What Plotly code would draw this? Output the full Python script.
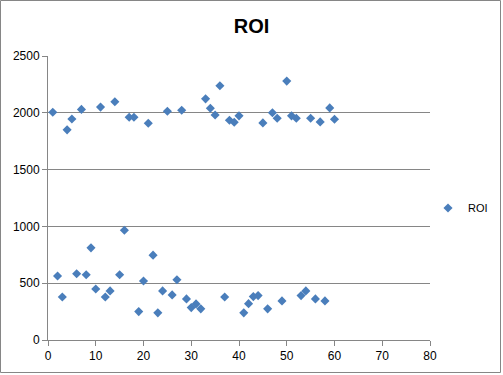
import plotly.graph_objects as go

x_vals = list(range(1, 61))
roi = [2005, 563, 379, 1850, 1945, 583, 2030, 574, 811, 449,
       2050, 379, 432, 2097, 574, 966, 1961, 1961, 250, 519,
       1908, 747, 239, 432, 2014, 397, 531, 2023, 362, 285,
       318, 274, 2123, 2040, 1981, 2238, 379, 1935, 1917, 1973,
       239, 320, 382, 391, 1911, 274, 2000, 1952, 344, 2279,
       1973, 1952, 391, 432, 1952, 362, 1920, 344, 2043, 1943]

series_name = "ROI"
x_ticks = [0, 10, 20, 30, 40, 50, 60, 70, 80]
y_ticks = [0, 500, 1000, 1500, 2000, 2500]

W, H = 503, 375
L, R, T, B = 48, 8, 56, 35
pw = W - L - R          # paper width used by plotly
ph = H - T - B
plot_right = 430        # pixel where the x axis ends
xdom = (plot_right - L) / pw

fig = go.Figure()
fig.add_trace(go.Scatter(
    x=x_vals, y=roi, mode="markers", name=series_name,
    marker=dict(symbol="diamond", size=7, color="#4A7EBB",
                line=dict(width=0)),
))

grid = "#868686"
fig.update_layout(
    template="none",
    width=W, height=H, autosize=False,
    margin=dict(l=L, r=R, t=T, b=B, autoexpand=False),
    paper_bgcolor="white", plot_bgcolor="white",
    font=dict(family="Liberation Sans", size=12, color="black"),
    title=dict(text="<b>ROI</b>", x=0.5, xanchor="center", xref="container",
               y=1 - 26 / H, yanchor="middle", yref="container",
               font=dict(size=20, color="black", family="Liberation Sans")),
    showlegend=True,
    legend=dict(x=1 - 2 / pw, y=(H - B - 208) / ph, xanchor="right",
                yanchor="middle", font=dict(size=11, color="black"),
                bgcolor="rgba(0,0,0,0)", itemwidth=30),
    xaxis=dict(domain=[0, xdom], range=[0, 80], tickvals=x_ticks,
               automargin=False,
               showgrid=False, showline=True, linecolor=grid, linewidth=1,
               ticks="outside", ticklen=5, tickcolor=grid, zeroline=False),
    yaxis=dict(range=[0, 2500], tickvals=y_ticks, showgrid=True,
               automargin=False,
               gridcolor=grid, gridwidth=1, showline=True, linecolor=grid,
               linewidth=1, ticks="outside", ticklen=5, tickcolor=grid,
               zeroline=False),
    shapes=[dict(type="rect", xref="paper", yref="paper",
                 x0=(0.5 - L) / pw, x1=(W - 2.5 - L) / pw,
                 y0=(H - B - (H - 2.5)) / ph, y1=(H - B - 0.5) / ph,
                 line=dict(color=grid, width=1), fillcolor="rgba(0,0,0,0)",
                 layer="below")],
)

fig.write_html("out.html",
               config={"responsive": False, "displayModeBar": False},
               post_script="document.body.style.margin='0';"
                           "document.body.style.overflow='hidden';")
